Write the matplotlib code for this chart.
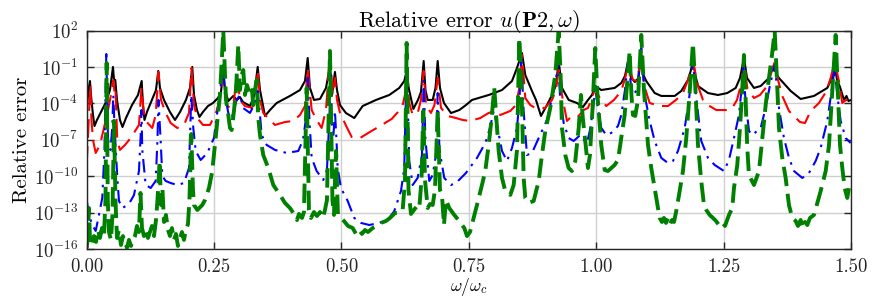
import numpy as np
import matplotlib
matplotlib.use("Agg")
import matplotlib.pyplot as plt
from matplotlib.ticker import FixedLocator, LogFormatterSciNotation, NullLocator

plt.rcParams['font.family'] = 'serif'
plt.rcParams['font.serif'] = ['cmr10', 'DejaVu Serif']
plt.rcParams['mathtext.fontset'] = 'cm'
plt.rcParams['axes.formatter.use_mathtext'] = True
plt.rcParams['axes.unicode_minus'] = False

# frequency w/wc and log10 of relative error
w_black = [0.000, 0.0035, 0.0065, 0.0084, 0.0124, 0.0153, 0.0202, 0.030, 0.0379, 0.0457,
           0.0516, 0.0536, 0.0561, 0.0595, 0.0653, 0.0703, 0.0771, 0.0889, 0.1007, 0.1079,
           0.1105, 0.1134, 0.1183, 0.1281, 0.136, 0.1405, 0.1438, 0.1517, 0.1634, 0.1733,
           0.1832, 0.1948, 0.2027, 0.2072, 0.2106, 0.2164, 0.2214, 0.2282, 0.238, 0.2478,
           0.2577, 0.2635, 0.2681, 0.2714, 0.2779, 0.2877, 0.2949, 0.3008, 0.3067, 0.3205,
           0.3284, 0.3356, 0.3401, 0.3499, 0.3597, 0.3728, 0.3989, 0.4186, 0.4284, 0.4337,
           0.4382, 0.446, 0.4578, 0.4696, 0.4774, 0.4814, 0.4872, 0.4912, 0.4971, 0.5088,
           0.5251, 0.5416, 0.5677, 0.5938, 0.6134, 0.6232, 0.6279, 0.6319, 0.641, 0.6501,
           0.656, 0.6613, 0.6648, 0.6691, 0.679, 0.6845, 0.6888, 0.6933, 0.7011, 0.7149,
           0.7312, 0.7443, 0.7561, 0.7889, 0.815, 0.8346, 0.8444, 0.8542, 0.8607, 0.8738,
           0.8817, 0.8915, 0.9033, 0.9131, 0.921, 0.9262, 0.9327, 0.9459, 0.9621, 0.9739,
           0.9837, 0.9916, 0.998, 1.0098, 1.0361, 1.0491, 1.0563, 1.0622, 1.0681, 1.0759,
           1.0828, 1.0883, 1.0926, 1.0981, 1.1146, 1.1276, 1.1538, 1.1668, 1.18, 1.1848,
           1.1897, 1.1947, 1.1996, 1.2192, 1.2388, 1.2571, 1.2736, 1.282, 1.2899, 1.2958,
           1.3095, 1.3226, 1.3389, 1.3448, 1.3501, 1.3546, 1.3585, 1.3815, 1.4011, 1.4272,
           1.4533, 1.4626, 1.4678, 1.4724, 1.4783, 1.4861, 1.491, 1.4949, 1.5]
lg_black = [-4.5, -2.9, -2.15, -3.3, -4.95, -5.86, -5.36, -4.54, -3.88, -2.89,
            -0.99, -2.06, -2.06, -3.71, -5.36, -5.94, -5.2, -4.13, -3.3, -2.15,
            -4.13, -5.36, -4.7, -3.71, -2.89, -1.32, -2.72, -3.71, -4.7, -5.36,
            -4.7, -3.71, -2.72, -0.99, -3.3, -4.54, -5.11, -4.7, -4.21, -3.96,
            -3.55, -3.05, -1.32, -2.89, -3.8, -3.38, -3.71, -3.47, -3.88, -4.21,
            -3.38, -0.99, -2.89, -5.03, -4.54, -3.96, -3.38, -2.89, -2.15, -0.25,
            -2.72, -3.71, -3.63, -2.72, -0.91, -3.3, -1.4, -2.89, -4.13, -4.79,
            -5.2, -4.21, -3.71, -3.3, -2.72, -2.15, -1.32, -2.72, -4.45, -3.71,
            -3.05, -0.5, -2.89, -3.71, -3.71, -2.72, -0.5, -2.72, -3.96, -4.79,
            -4.54, -4.13, -3.71, -3.3, -2.89, -2.15, -1.07, 0.16, -1.65, -2.97,
            -3.71, -5.03, -4.13, -3.3, -2.48, -0.5, -2.72, -3.71, -3.96, -4.29,
            -3.71, -3.3, -2.56, -2.89, -2.72, -2.31, -1.73, -0.58, -1.9, -2.23,
            -1.9, 0.08, -1.65, -2.15, -3.14, -3.38, -3.38, -2.97, -2.06, -1.4,
            -0.5, -1.73, -2.56, -3.14, -3.3, -3.14, -2.72, -1.9, -0.25, -1.9,
            -2.72, -2.56, -1.9, -1.24, -0.75, -1.65, -1.9, -2.97, -3.63, -3.38,
            -2.72, -1.9, -0.75, -2.06, -2.64, -3.71, -3.38, -3.8, -3.71]

w_red = [0.000, 0.0026, 0.0055, 0.0071, 0.0094, 0.0124, 0.0177, 0.0261, 0.0339, 0.0418,
         0.0477, 0.0522, 0.0546, 0.0565, 0.06, 0.0653, 0.0752, 0.0863, 0.1026, 0.1075,
         0.1115, 0.1158, 0.1287, 0.1354, 0.1409, 0.1458, 0.155, 0.1648, 0.1778, 0.1909,
         0.2008, 0.2057, 0.2106, 0.217, 0.2282, 0.242, 0.2551, 0.2616, 0.2681, 0.2747,
         0.2812, 0.2891, 0.2949, 0.3008, 0.3106, 0.3244, 0.3322, 0.3356, 0.3401, 0.3465,
         0.3597, 0.3695, 0.3891, 0.4054, 0.4186, 0.4284, 0.4337, 0.4415, 0.4513, 0.4611,
         0.4696, 0.478, 0.4823, 0.4872, 0.4912, 0.4971, 0.5102, 0.52, 0.5363, 0.5526,
         0.5755, 0.5985, 0.6109, 0.6201, 0.6246, 0.6285, 0.633, 0.6397, 0.6501, 0.656,
         0.6613, 0.6658, 0.6756, 0.6825, 0.6888, 0.6953, 0.7084, 0.7247, 0.7378, 0.7522,
         0.7724, 0.7889, 0.8018, 0.8116, 0.8312, 0.8424, 0.8483, 0.8542, 0.8607, 0.8705,
         0.8803, 0.8993, 0.9131, 0.9209, 0.9262, 0.9327, 0.9425, 0.9523, 0.9655, 0.9753,
         0.9837, 0.9916, 0.998, 1.0067, 1.0196, 1.0347, 1.0491, 1.0583, 1.0622, 1.0721,
         1.0805, 1.0883, 1.0936, 1.1048, 1.1244, 1.1407, 1.1564, 1.1701, 1.18, 1.1897,
         1.1996, 1.2094, 1.2192, 1.2355, 1.2559, 1.2657, 1.2761, 1.2839, 1.2899, 1.2963,
         1.3095, 1.3212, 1.3356, 1.3438, 1.3501, 1.3566, 1.365, 1.3782, 1.388, 1.3997,
         1.4096, 1.4207, 1.437, 1.4507, 1.46, 1.4678, 1.4762, 1.4827, 1.49, 1.4992]
lg_red = [-9.07, -6.6, -3.71, -2.48, -5.36, -7.01, -8.08, -7.42, -6.02, -4.54,
          -3.3, -2.06, -3.05, -2.72, -7.01, -7.83, -7.42, -6.85, -5.77, -2.72,
          -4.54, -5.44, -6.02, -4.95, -1.4, -3.71, -4.78, -5.61, -6.02, -5.77,
          -4.78, -1.07, -4.13, -5.2, -5.77, -5.77, -4.62, -3.55, -1.65, -4.13,
          -4.37, -3.71, -1.65, -3.71, -4.21, -4.37, -3.3, -1.24, -3.71, -4.78,
          -5.36, -5.77, -5.53, -5.44, -4.95, -4.21, -1.07, -4.54, -5.36, -6.02,
          -4.54, 0.33, -3.3, -1.9, -3.71, -4.78, -5.94, -6.76, -6.85, -6.43,
          -5.86, -5.28, -4.7, -4.13, -3.3, -1.49, -3.96, -4.95, -4.7, -3.71,
          -1.32, -4.13, -4.78, -4.13, -1.9, -4.37, -5.03, -5.2, -5.36, -5.44,
          -5.2, -4.78, -4.62, -4.95, -4.62, -4.13, -2.89, 0.0, -3.55, -4.13,
          -4.37, -4.37, -3.71, -2.89, -1.24, -3.3, -5.44, -5.03, -5.03, -4.54,
          -4.37, -3.55, -2.72, -3.55, -4.21, -3.71, -2.97, -1.65, -0.75, -2.06,
          -2.15, 0.08, -2.48, -3.96, -4.21, -4.21, -3.71, -3.14, -2.06, -0.5,
          -2.56, -3.71, -4.13, -4.54, -4.54, -4.45, -3.71, -2.48, -0.58, -2.72,
          -3.55, -3.3, -2.56, -1.4, -0.58, -2.06, -3.38, -4.62, -5.03, -5.53,
          -5.61, -4.62, -3.96, -3.05, -1.9, -0.58, -2.15, -3.96, -3.71, -3.8]

w_blue = [0.000, 0.0045, 0.011, 0.0177, 0.0241, 0.0306, 0.0349, 0.0385, 0.0418, 0.0467,
          0.0502, 0.0522, 0.0546, 0.0569, 0.0604, 0.0634, 0.0699, 0.0771, 0.0863, 0.0928,
          0.1026, 0.106, 0.1075, 0.1091, 0.1158, 0.1256, 0.1354, 0.1389, 0.1409, 0.1452,
          0.1484, 0.155, 0.1648, 0.1778, 0.1909, 0.2008, 0.2037, 0.2053, 0.2092, 0.2139,
          0.2237, 0.2367, 0.2498, 0.2582, 0.2645, 0.2681, 0.2714, 0.2779, 0.2845, 0.2943,
          0.3008, 0.3067, 0.3205, 0.3284, 0.3356, 0.3401, 0.3434, 0.3532, 0.3695, 0.3925,
          0.4152, 0.4244, 0.4297, 0.4337, 0.4372, 0.4415, 0.4513, 0.4643, 0.4715, 0.4765,
          0.4788, 0.4814, 0.4839, 0.4872, 0.4902, 0.4925, 0.499, 0.5122, 0.5251, 0.5383,
          0.5546, 0.5742, 0.5907, 0.6036, 0.6168, 0.6232, 0.6279, 0.633, 0.6397, 0.6495,
          0.658, 0.6613, 0.6648, 0.6723, 0.679, 0.6854, 0.6888, 0.6923, 0.7017, 0.7149,
          0.7247, 0.7443, 0.7659, 0.7822, 0.7914, 0.7987, 0.8051, 0.815, 0.8248, 0.8346,
          0.8444, 0.8493, 0.8528, 0.8575, 0.864, 0.8738, 0.887, 0.9033, 0.9131, 0.9209,
          0.9248, 0.9288, 0.936, 0.9458, 0.9557, 0.9686, 0.9759, 0.9818, 0.9877, 0.9935,
          0.998, 1.0033, 1.0098, 1.0196, 1.0294, 1.0426, 1.0491, 1.0563, 1.0622, 1.0681,
          1.0721, 1.0799, 1.0883, 1.095, 1.1048, 1.1146, 1.1276, 1.1407, 1.1505, 1.1603,
          1.1735, 1.1819, 1.1897, 1.1956, 1.206, 1.2192, 1.2323, 1.2506, 1.2604, 1.2702,
          1.28, 1.2849, 1.2885, 1.2928, 1.2997, 1.3061, 1.3226, 1.3324, 1.3409, 1.3501,
          1.3585, 1.3683, 1.3782, 1.388, 1.4043, 1.4174, 1.4305, 1.4403, 1.4533, 1.4606,
          1.4678, 1.4729, 1.4796, 1.4894, 1.4992]
lg_blue = [-11.96, -13.19, -14.02, -14.51, -13.19, -11.79, -7.83, 0.08, -7.01, -7.83,
           -6.02, -3.3, -5.77, -7.67, -10.31, -12.04, -12.62, -12.45, -12.04, -11.55,
           -9.57, -6.6, -4.54, -7.83, -10.72, -10.97, -10.39, -7.01, -3.71, -7.09,
           -9.98, -10.39, -10.56, -10.72, -10.56, -9.32, -5.36, -3.3, -6.02, -7.92,
           -8.66, -8.08, -6.85, -4.13, -2.06, -0.83, -3.3, -4.78, -5.2, -3.71,
           -3.3, -4.37, -4.78, -4.13, -2.97, -4.95, -6.6, -7.42, -7.83, -8.08,
           -7.92, -7.01, -5.44, -1.65, -5.44, -8.49, -9.57, -10.31, -9.48, -4.95,
           -1.32, -5.77, -6.85, -4.62, -7.01, -9.32, -10.97, -12.04, -13.44, -13.85,
           -14.02, -13.85, -13.61, -12.87, -11.21, -9.32, -0.5, -8.74, -10.72, -10.14,
           -8.25, -2.15, -7.01, -10.39, -9.9, -8.25, -3.14, -7.83, -10.14, -10.72,
           -10.56, -9.73, -8.49, -7.26, -6.02, -4.62, -5.77, -7.92, -8.74, -7.67,
           -6.02, -3.71, -0.25, -4.62, -8.25, -8.08, -6.85, -5.36, -3.55, -2.06,
           -0.5, -3.3, -5.61, -6.85, -7.09, -6.6, -7.01, -7.26, -6.19, -4.54,
           -2.72, -4.37, -6.02, -6.6, -6.43, -5.86, -4.95, -2.89, -0.5, -2.48,
           -3.3, -2.89, 0.57, -3.3, -5.44, -7.09, -8.49, -8.91, -8.74, -7.92,
           -6.02, -3.71, -0.5, -3.3, -7.09, -8.49, -9.07, -9.57, -8.66, -6.85,
           -4.95, -2.89, -1.07, -3.71, -6.27, -6.6, -6.02, -4.37, -2.48, -0.83,
           -4.37, -6.85, -8.49, -9.57, -10.14, -9.73, -8.74, -7.67, -5.44, -3.3,
           -1.07, -3.3, -5.44, -6.85, -7.26]

w_green = [0.000, 0.0025, 0.0045, 0.0065, 0.0104, 0.0143, 0.0183, 0.0222, 0.0261, 0.030,
           0.0339, 0.0369, 0.0392, 0.0414, 0.0437, 0.0477, 0.0506, 0.0536, 0.0565, 0.0595,
           0.0634, 0.0673, 0.0712, 0.0752, 0.0791, 0.083, 0.0869, 0.0908, 0.0948, 0.0987,
           0.1026, 0.1056, 0.1085, 0.1124, 0.1164, 0.1203, 0.1242, 0.1281, 0.1321, 0.136,
           0.1389, 0.1433, 0.1458, 0.1488, 0.1517, 0.1556, 0.1595, 0.1635, 0.1674, 0.1713,
           0.1752, 0.1791, 0.1831, 0.187, 0.1909, 0.1948, 0.1988, 0.2017, 0.2052, 0.2086,
           0.2106, 0.2171, 0.2269, 0.2321, 0.24, 0.2465, 0.2551, 0.2616, 0.2681, 0.2734,
           0.2779, 0.2812, 0.2845, 0.289, 0.293, 0.2975, 0.3008, 0.3041, 0.3073, 0.3106,
           0.3146, 0.3204, 0.3244, 0.3269, 0.3302, 0.3336, 0.3367, 0.3401, 0.3465, 0.3564,
           0.3662, 0.3793, 0.3891, 0.3989, 0.4068, 0.4127, 0.4166, 0.4225, 0.4264, 0.4317,
           0.4362, 0.4401, 0.446, 0.4519, 0.4578, 0.4637, 0.4676, 0.4715, 0.4774, 0.4823,
           0.4853, 0.4892, 0.4931, 0.499, 0.5049, 0.5128, 0.522, 0.5285, 0.5344, 0.5402,
           0.5461, 0.552, 0.5612, 0.5697, 0.5775, 0.5873, 0.5952, 0.605, 0.6134, 0.6201,
           0.6246, 0.6279, 0.6315, 0.6364, 0.6423, 0.6482, 0.6527, 0.657, 0.6605, 0.6639,
           0.6692, 0.6737, 0.679, 0.6835, 0.6888, 0.6933, 0.6972, 0.7011, 0.7051, 0.7115,
           0.7213, 0.7311, 0.741, 0.7463, 0.7522, 0.7594, 0.7659, 0.7757, 0.7822, 0.7888,
           0.7943, 0.7998, 0.8041, 0.8085, 0.815, 0.8214, 0.8313, 0.8379, 0.8444, 0.8489,
           0.8522, 0.8556, 0.8575, 0.8607, 0.8673, 0.8771, 0.887, 0.8934, 0.8999, 0.9097,
           0.9195, 0.9262, 0.9297, 0.9327, 0.9392, 0.9458, 0.9523, 0.9588, 0.9655, 0.97,
           0.9739, 0.9784, 0.9837, 0.9876, 0.9925, 0.998, 1.0023, 1.0098, 1.0165, 1.0229,
           1.0361, 1.0426, 1.0485, 1.0557, 1.0602, 1.0655, 1.069, 1.072, 1.0765, 1.0818,
           1.0883, 1.0936, 1.1015, 1.1079, 1.1146, 1.1211, 1.1244, 1.1289, 1.1328, 1.1368,
           1.1407, 1.1446, 1.1485, 1.1525, 1.157, 1.1637, 1.1701, 1.1766, 1.1829, 1.1897,
           1.1946, 1.1996, 1.206, 1.2113, 1.2158, 1.2225, 1.229, 1.2349, 1.2408, 1.2467,
           1.2526, 1.2604, 1.2669, 1.2702, 1.2767, 1.282, 1.2859, 1.2898, 1.2932, 1.2963,
           1.2996, 1.3095, 1.3193, 1.3258, 1.3324, 1.3389, 1.3448, 1.3501, 1.3546, 1.3585,
           1.365, 1.3716, 1.3781, 1.3846, 1.3913, 1.3958, 1.4011, 1.4056, 1.4096, 1.4141,
           1.4194, 1.4272, 1.4404, 1.4502, 1.4567, 1.4626, 1.4698, 1.4743, 1.4783, 1.4828,
           1.4874, 1.4925, 1.4959, 1.4998]
lg_green = [-15.91, -14.84, -12.62, -15.25, -15.75, -14.93, -15.42, -14.43, -15.09, -14.27,
            -14.93, -11.96, -0.66, -11.96, -14.6, -15.25, -13.19, -5.44, -11.96, -15.09,
            -14.43, -15.67, -14.93, -15.42, -15.91, -15.25, -15.75, -15.25, -14.93, -14.1,
            -14.6, -11.38, -14.27, -14.93, -14.43, -15.09, -14.6, -14.1, -14.93, -13.61,
            -11.96, -8.74, -12.37, -11.13, -13.77, -13.19, -14.43, -14.93, -14.27, -15.25,
            -14.76, -15.75, -15.09, -14.6, -15.25, -14.43, -13.94, -11.96, -6.52, -11.13,
            -12.37, -12.78, -12.37, -11.96, -10.97, -9.57, -6.02, -3.3, 1.98, -3.71,
            -4.95, -6.02, -6.19, -4.62, -2.89, 0.82, -2.89, -1.65, -1.24, -3.3,
            -2.48, -3.3, -2.89, -4.13, -2.89, -2.06, -5.2, -6.6, -8.25, -9.32,
            -10.72, -11.54, -12.2, -12.62, -13.11, -13.61, -13.11, -13.44, -12.95, -2.72,
            -12.78, -13.44, -12.95, -13.28, -12.95, -13.44, -12.78, -11.96, 0.33, -11.96,
            -13.19, -7.92, -13.19, -13.44, -13.69, -14.1, -14.27, -14.76, -14.43, -14.76,
            -14.43, -14.6, -14.27, -14.1, -13.85, -13.69, -13.44, -13.03, -13.03, -12.78,
            -10.31, 0.99, -11.13, -13.11, -12.78, -12.45, -12.62, -10.31, -4.62, -10.31,
            -12.62, -12.29, -12.37, -11.13, -4.62, -11.13, -11.54, -14.02, -11.96, -12.62,
            -13.19, -13.69, -14.27, -14.93, -14.6, -13.44, -12.37, -10.72, -9.57, -7.42,
            -5.36, -2.72, -5.36, -7.92, -10.14, -11.21, -11.54, -10.72, -7.83, 1.4,
            -1.24, -6.6, -10.14, -11.79, -12.2, -12.04, -10.39, -8.25, -6.27, -4.37,
            -1.65, 1.98, -1.24, -6.02, -8.25, -9.32, -9.57, -8.74, -6.02, -3.3,
            -5.36, -7.09, -9.32, -8.25, -4.54, 0.57, -3.3, -7.42, -9.48, -9.57,
            -9.07, -8.66, -7.01, -4.95, -2.48, 0.33, -3.3, -4.95, -5.03, -3.71,
            1.65, -2.89, -7.42, -9.32, -10.97, -12.62, -13.44, -13.77, -13.44, -13.85,
            -13.44, -13.94, -13.61, -13.77, -12.86, -11.21, -9.57, -6.85, -3.3, 0.99,
            -2.89, -7.42, -10.39, -12.37, -12.78, -13.19, -13.44, -13.69, -14.02, -13.77,
            -14.1, -13.19, -12.62, -10.97, -9.07, -6.02, -3.3, 0.0, -3.8, -7.67,
            -9.9, -10.72, -9.57, -6.85, -4.13, -1.9, 0.0, 1.98, -2.06, -6.02,
            -8.49, -10.14, -12.37, -13.44, -13.69, -14.1, -13.61, -14.27, -13.77, -14.02,
            -13.44, -13.19, -11.21, -9.57, -7.42, -3.3, 1.65, -3.3, -7.42, -9.32,
            -10.97, -11.79, -10.97, -10.39]

fig = plt.figure(figsize=(8.72, 2.99), dpi=100)
ax = fig.add_axes([0.0994, 0.1672, 0.8766, 0.7301])

ax.plot(w_black, 10.0 ** np.array(lg_black), color='k', lw=1.5)
ax.plot(w_red, 10.0 ** np.array(lg_red), color='#ff0000', lw=1.5, dashes=(9, 4))
ax.plot(w_blue, 10.0 ** np.array(lg_blue), color='#0000ff', lw=1.5, dashes=(6.5, 3, 1.2, 3))
ax.plot(w_green, 10.0 ** np.array(lg_green), color='#008000', lw=2.8, dashes=(5, 2))

ax.set_yscale('log')
ax.set_xlim(0, 1.5)
ax.set_ylim(1e-16, 1e2)
ax.set_xticks([0, 0.25, 0.5, 0.75, 1.0, 1.25, 1.5])
ax.set_xticklabels(['0.00', '0.25', '0.50', '0.75', '1.00', '1.25', '1.50'])
ax.yaxis.set_major_locator(FixedLocator([1e-16, 1e-13, 1e-10, 1e-7, 1e-4, 1e-1, 1e2]))
ax.yaxis.set_major_formatter(LogFormatterSciNotation())
ax.yaxis.set_minor_locator(NullLocator())
ax.xaxis.set_minor_locator(NullLocator())

ax.grid(True, color='#cfcfcf', lw=1.0)
ax.set_axisbelow(True)
ax.tick_params(direction='in', length=5, width=1, top=True, right=True,
               labelsize=13.5, colors='#262626', labelcolor='#262626')
ax.tick_params(axis='x', pad=6.5)
ax.tick_params(axis='y', pad=6)
for sp in ax.spines.values():
    sp.set_color('#262626')
    sp.set_linewidth(1.0)

ax.set_title(r'Relative error $u(\mathbf{P2},\omega)$', fontsize=16, pad=3, color='k')
ax.set_xlabel(r'$\omega/\omega_c$', fontsize=12.5, color='k', va='bottom')
ax.xaxis.set_label_coords(0.5, -0.224)
ax.set_ylabel('Relative error', fontsize=15, labelpad=2, color='k')

fig.savefig('out.png', dpi=100)
